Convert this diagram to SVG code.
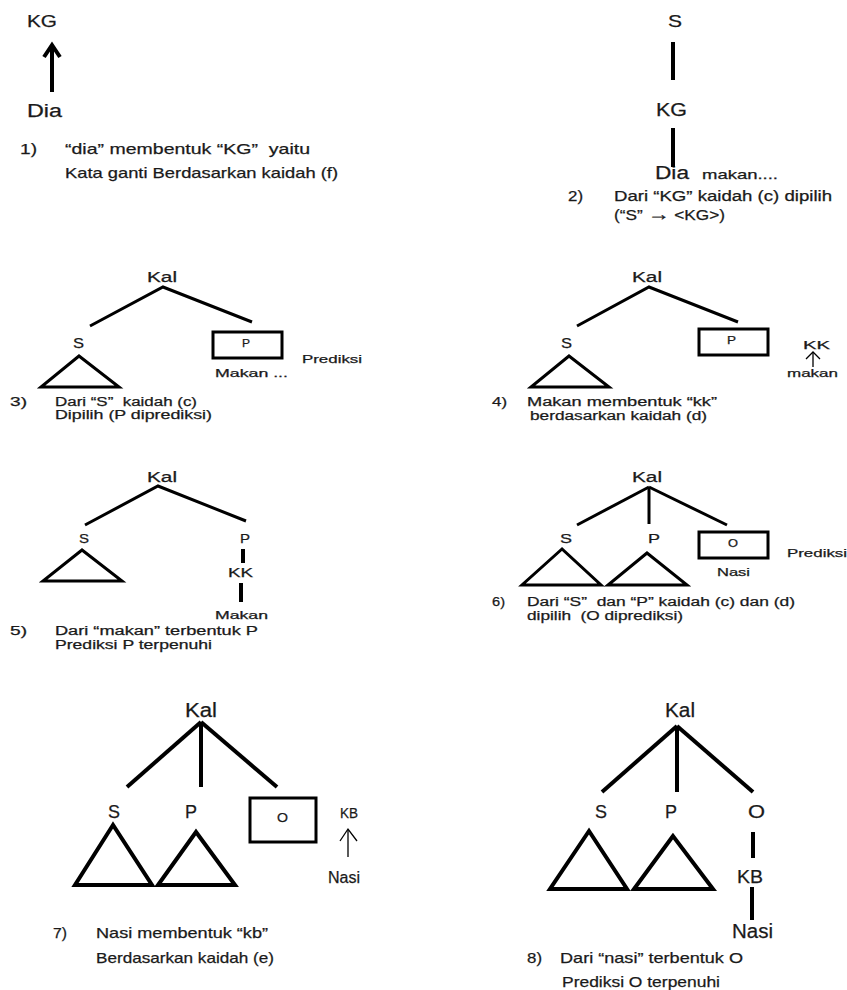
<svg xmlns="http://www.w3.org/2000/svg" width="847" height="990" viewBox="0 0 847 990">
<style>
text{font-family:"Liberation Sans",Arial,sans-serif;fill:#1a1a1a;white-space:pre;stroke:#1a1a1a;stroke-width:0.25}
.ln{stroke:#000;stroke-width:3;fill:none}
.ln4{stroke:#000;stroke-width:4;fill:none}
.thin{stroke:#000;stroke-width:1.3;fill:none}
.tri{stroke:#000;stroke-width:3;fill:none}
.tri4{stroke:#000;stroke-width:4;fill:none}
.box{stroke:#000;stroke-width:3;fill:#fff}
</style>
<rect width="847" height="990" fill="#fff"/>

<!-- Panel 1 -->
<g id="p1">
  <g id="p1-kg"><text font-size="17" x="27" y="27" textLength="30" lengthAdjust="spacingAndGlyphs">KG</text></g>
  <g id="p1-dia"><text font-size="18" x="27" y="117" textLength="35" lengthAdjust="spacingAndGlyphs">Dia</text></g>
  <g id="p1-cap" font-size="15">
    <text x="20" y="154" textLength="17" lengthAdjust="spacingAndGlyphs">1)</text>
    <text x="65" y="154" textLength="245" lengthAdjust="spacingAndGlyphs">“dia” membentuk “KG”  yaitu</text>
    <text x="65" y="178" textLength="273" lengthAdjust="spacingAndGlyphs">Kata ganti Berdasarkan kaidah (f)</text>
  </g>
</g>
<!-- Panel 2 -->
<g id="p2">
  <g id="p2-s"><text font-size="17" x="668" y="27" textLength="14" lengthAdjust="spacingAndGlyphs">S</text></g>
  <g id="p2-kg"><text font-size="18" x="656" y="116" textLength="31" lengthAdjust="spacingAndGlyphs">KG</text></g>
  <g id="p2-dia"><text font-size="18" x="655" y="179" textLength="34" lengthAdjust="spacingAndGlyphs">Dia</text><text font-size="13" x="702" y="179" textLength="76" lengthAdjust="spacingAndGlyphs">makan....</text></g>
  <g id="p2-cap" font-size="14">
    <text x="568" y="201" textLength="15" lengthAdjust="spacingAndGlyphs">2)</text>
    <text x="614" y="201" textLength="218" lengthAdjust="spacingAndGlyphs">Dari “KG” kaidah (c) dipilih</text>
    <text x="614" y="220" textLength="111" lengthAdjust="spacingAndGlyphs">(“S” <tspan font-size="18">→</tspan> &lt;KG&gt;)</text>
  </g>
</g>
<!-- Panel 3 -->
<g id="p3">
  <g id="p3-kal"><text font-size="14" x="147" y="282" textLength="30" lengthAdjust="spacingAndGlyphs">Kal</text></g>
  <g id="p3-s"><text font-size="14" x="73" y="348" textLength="11" lengthAdjust="spacingAndGlyphs">S</text><polygon class="tri" points="79,356 41,387 119,387"/></g>
  <g id="p3-p"><rect class="box" x="213" y="332" width="69" height="26"/><text font-size="10" x="242" y="347" textLength="8" lengthAdjust="spacingAndGlyphs">P</text><text font-size="11" x="215" y="377" textLength="73" lengthAdjust="spacingAndGlyphs">Makan ...</text></g>
  <g id="p3-pred"><text font-size="11" x="302" y="363" textLength="60" lengthAdjust="spacingAndGlyphs">Prediksi</text></g>
  <g id="p3-cap" font-size="12">
    <text x="10" y="406" textLength="17" lengthAdjust="spacingAndGlyphs">3)</text>
    <text x="55" y="406" textLength="142" lengthAdjust="spacingAndGlyphs">Dari “S”  kaidah (c)</text>
    <text x="55" y="419" textLength="157" lengthAdjust="spacingAndGlyphs">Dipilih (P diprediksi)</text>
  </g>
</g>
<!-- Panel 4 -->
<g id="p4">
  <g id="p4-kal"><text font-size="14" x="632" y="282" textLength="30" lengthAdjust="spacingAndGlyphs">Kal</text></g>
  <g id="p4-s"><text font-size="14" x="561" y="348" textLength="11" lengthAdjust="spacingAndGlyphs">S</text><polygon class="tri" points="569,356 531,387 609,387"/></g>
  <g id="p4-p"><rect class="box" x="699" y="329" width="69" height="26"/><text font-size="10" x="727" y="344" textLength="9" lengthAdjust="spacingAndGlyphs">P</text></g>
  <g id="p4-kk"><text font-size="11" x="803" y="349" textLength="27" lengthAdjust="spacingAndGlyphs">KK</text><text font-size="11" x="787" y="377" textLength="51" lengthAdjust="spacingAndGlyphs">makan</text></g>
  <g id="p4-cap" font-size="12">
    <text x="492" y="406" textLength="15" lengthAdjust="spacingAndGlyphs">4)</text>
    <text x="527" y="406" textLength="190" lengthAdjust="spacingAndGlyphs">Makan membentuk “kk”</text>
    <text x="530" y="420" textLength="177" lengthAdjust="spacingAndGlyphs">berdasarkan kaidah (d)</text>
  </g>
</g>
<!-- Panel 5 -->
<g id="p5">
  <g id="p5-kal"><text font-size="14" x="147" y="482" textLength="30" lengthAdjust="spacingAndGlyphs">Kal</text></g>
  <g id="p5-s"><text font-size="13" x="79" y="543" textLength="10" lengthAdjust="spacingAndGlyphs">S</text><polygon class="tri" points="82,550 43,581 122,581"/></g>
  <g id="p5-p"><text font-size="13" x="240" y="543" textLength="10" lengthAdjust="spacingAndGlyphs">P</text></g>
  <g id="p5-kk"><text font-size="13" x="228" y="577" textLength="25" lengthAdjust="spacingAndGlyphs">KK</text></g>
  <g id="p5-makan"><text font-size="11" x="215" y="619" textLength="53" lengthAdjust="spacingAndGlyphs">Makan</text></g>
  <g id="p5-cap" font-size="12">
    <text x="10" y="635" textLength="17" lengthAdjust="spacingAndGlyphs">5)</text>
    <text x="55" y="635" textLength="203" lengthAdjust="spacingAndGlyphs">Dari “makan” terbentuk P</text>
    <text x="55" y="649" textLength="157" lengthAdjust="spacingAndGlyphs">Prediksi P terpenuhi</text>
  </g>
</g>
<!-- Panel 6 -->
<g id="p6">
  <g id="p6-kal"><text font-size="14" x="632" y="482" textLength="30" lengthAdjust="spacingAndGlyphs">Kal</text></g>
  <g id="p6-s"><text font-size="13" x="560" y="543" textLength="12" lengthAdjust="spacingAndGlyphs">S</text><polygon class="tri" points="562,549 522,585 601,585"/></g>
  <g id="p6-p"><text font-size="13" x="648" y="543" textLength="12" lengthAdjust="spacingAndGlyphs">P</text><polygon class="tri" points="647,553 608,585 687,585"/></g>
  <g id="p6-o"><rect class="box" x="699" y="532" width="69" height="26"/><text font-size="11" x="728" y="547" textLength="10" lengthAdjust="spacingAndGlyphs">O</text><text font-size="11" x="717" y="576" textLength="33" lengthAdjust="spacingAndGlyphs">Nasi</text></g>
  <g id="p6-pred"><text font-size="11" x="787" y="557" textLength="60" lengthAdjust="spacingAndGlyphs">Prediksi</text></g>
  <g id="p6-cap" font-size="12">
    <text x="492" y="606" textLength="13" lengthAdjust="spacingAndGlyphs">6)</text>
    <text x="527" y="606" textLength="268" lengthAdjust="spacingAndGlyphs">Dari “S”  dan “P” kaidah (c) dan (d)</text>
    <text x="527" y="620" textLength="156" lengthAdjust="spacingAndGlyphs">dipilih  (O diprediksi)</text>
  </g>
</g>
<!-- Panel 7 -->
<g id="p7">
  <g id="p7-kal"><text font-size="20" x="185" y="717" textLength="32" lengthAdjust="spacingAndGlyphs">Kal</text></g>
  <g id="p7-s"><text font-size="19" x="108" y="818" textLength="12" lengthAdjust="spacingAndGlyphs">S</text><polygon class="tri4" points="113,825 75,885 152,885"/></g>
  <g id="p7-p"><text font-size="19" x="185" y="818" textLength="12" lengthAdjust="spacingAndGlyphs">P</text><polygon class="tri4" points="196,832 158,885 235,885"/></g>
  <g id="p7-o"><rect class="box" x="250" y="798" width="66" height="44"/><text font-size="13" x="277" y="822" textLength="11" lengthAdjust="spacingAndGlyphs">O</text></g>
  <g id="p7-kb"><text font-size="14" x="340" y="818" textLength="18" lengthAdjust="spacingAndGlyphs">KB</text><text font-size="16" x="328" y="883" textLength="32" lengthAdjust="spacingAndGlyphs">Nasi</text></g>
  <g id="p7-cap" font-size="15">
    <text x="53" y="938" textLength="14" lengthAdjust="spacingAndGlyphs">7)</text>
    <text x="96" y="938" textLength="172" lengthAdjust="spacingAndGlyphs">Nasi membentuk “kb”</text>
    <text x="96" y="963" textLength="178" lengthAdjust="spacingAndGlyphs">Berdasarkan kaidah (e)</text>
  </g>
</g>
<!-- Panel 8 -->
<g id="p8">
  <g id="p8-kal"><text font-size="20" x="665" y="717" textLength="30" lengthAdjust="spacingAndGlyphs">Kal</text></g>
  <g id="p8-s"><text font-size="19" x="595" y="818" textLength="12" lengthAdjust="spacingAndGlyphs">S</text><polygon class="tri4" points="589,831 550,889 627,889"/></g>
  <g id="p8-p"><text font-size="19" x="665" y="818" textLength="12" lengthAdjust="spacingAndGlyphs">P</text><polygon class="tri4" points="673,836 634,889 713,889"/></g>
  <g id="p8-o"><text font-size="19" x="748" y="818" textLength="17" lengthAdjust="spacingAndGlyphs">O</text></g>
  <g id="p8-kb"><text font-size="19" x="737" y="883" textLength="26" lengthAdjust="spacingAndGlyphs">KB</text></g>
  <g id="p8-nasi"><text font-size="20" x="732" y="938" textLength="41" lengthAdjust="spacingAndGlyphs">Nasi</text></g>
  <g id="p8-cap" font-size="15">
    <text x="527" y="963" textLength="15" lengthAdjust="spacingAndGlyphs">8)</text>
    <text x="560" y="963" textLength="183" lengthAdjust="spacingAndGlyphs">Dari “nasi” terbentuk O</text>
    <text x="562" y="987" textLength="158" lengthAdjust="spacingAndGlyphs">Prediksi O terpenuhi</text>
  </g>
</g>

<!-- Connectors -->
<g id="connectors">
  <line class="ln4" x1="52" y1="92" x2="52" y2="46"/>
  <polyline class="ln4" points="44,57 52,45 60,57"/>
  <line class="ln4" x1="673" y1="42" x2="673" y2="80"/>
  <line class="ln4" x1="673" y1="128" x2="673" y2="167"/>
  <polyline class="ln" points="90,326 163,287 252,322"/>
  <polyline class="ln" points="577,326 649,287 738,322"/>
  <line class="thin" x1="813" y1="367" x2="813" y2="353"/>
  <polyline class="thin" points="806,359 813,352 820,359"/>
  <polyline class="ln" points="85,525 158,486 246,521"/>
  <line class="ln4" x1="243" y1="549" x2="243" y2="563"/>
  <line class="ln4" x1="241" y1="583" x2="241" y2="602"/>
  <line class="ln" x1="649" y1="487" x2="577" y2="525"/>
  <line class="ln" x1="649" y1="487" x2="649" y2="524"/>
  <line class="ln" x1="649" y1="487" x2="727" y2="525"/>
  <line class="ln4" x1="201" y1="722" x2="127" y2="787"/>
  <line class="ln4" x1="201" y1="722" x2="201" y2="787"/>
  <line class="ln4" x1="201" y1="722" x2="277" y2="787"/>
  <line class="thin" x1="348" y1="857" x2="348" y2="830"/>
  <polyline class="thin" points="340,841 348,829 357,841"/>
  <line class="ln4" x1="677" y1="726" x2="602" y2="792"/>
  <line class="ln4" x1="677" y1="726" x2="677" y2="792"/>
  <line class="ln4" x1="677" y1="726" x2="753" y2="792"/>
  <line class="ln4" x1="753" y1="832" x2="753" y2="858"/>
  <line class="ln4" x1="752" y1="887" x2="752" y2="920"/>
</g>
</svg>
